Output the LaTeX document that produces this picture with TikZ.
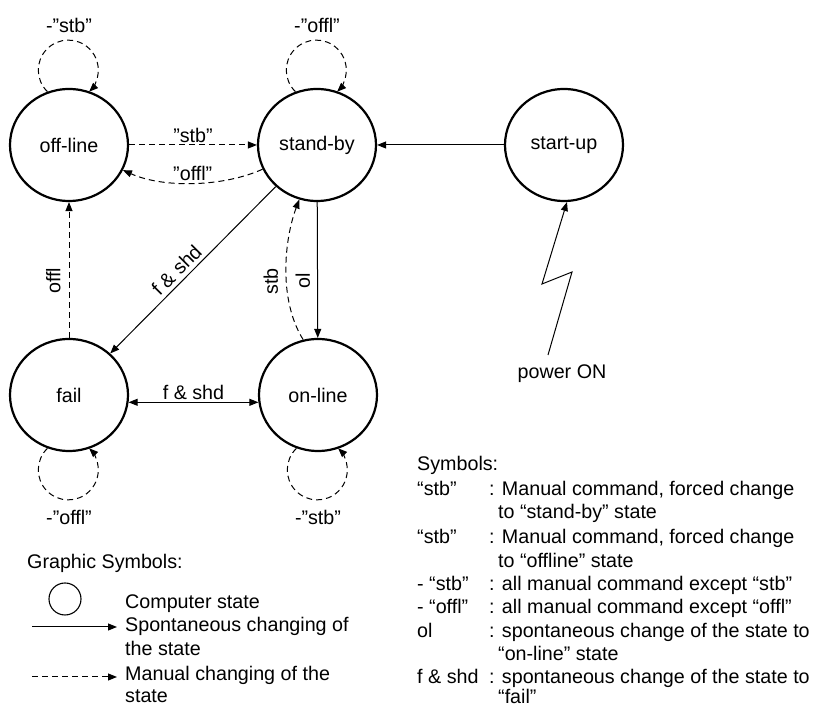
\documentclass[tikz,border=0pt]{standalone}
\usepackage{fontspec}
\setmainfont{Liberation Sans}
\usetikzlibrary{arrows.meta,shapes.geometric}
\begin{document}
\begin{tikzpicture}[x=1pt,y=1pt,
  every node/.style={font=\fontsize{19.7}{23.5}\selectfont, inner sep=2pt},
  state/.style={ellipse, draw, line width=2.2pt, minimum width=118pt, minimum height=112pt, inner sep=0pt},
  spont/.style={line width=1pt, -{Triangle[length=9pt,width=7pt]}},
  manual/.style={spont, dash pattern=on 6pt off 4pt},
  twoway/.style={line width=1pt, {Triangle[length=9pt,width=7pt]}-{Triangle[length=9pt,width=7pt]}},
  legtxt/.style={anchor=base west, inner sep=0pt}]
\useasboundingbox (0,0) rectangle (815,706);

% states
\node[state] (off)   at (69,561)  {off-line};
\node[state] (stby)  at (317,561) {stand-by};
\node[state] (start) at (564,561) {start-up};
\node[state] (fail)  at (69,311)  {fail};
\node[state] (onl)   at (318,311) {on-line};

% self loops
\draw[manual] (off.112) arc[start angle=226, end angle=-46, radius=30];
\node (loff) at (69,681) {-”stb”};
\draw[manual] (stby.112) arc[start angle=226, end angle=-46, radius=30];
\node (lstby) at (317,681) {-”offl”};
\draw[manual] (fail.-112) arc[start angle=134, end angle=406, radius=30];
\node (lfail) at (69,189) {-”offl”};
\draw[manual] (onl.-112) arc[start angle=134, end angle=406, radius=30];
\node (lonl) at (318,189) {-”stb”};

% transitions
\draw[manual] (off) -- node[above] {”stb”} (stby);
\draw[manual] (stby.204) .. controls +(-40,-18) and +(40,-18) .. (off.-25)
  node[pos=.5, above] {”offl”};
\draw[spont] (start) -- (stby);
\draw[spont] (stby) -- node[pos=.55, sloped, above=2pt] {f \& shd} (fail);
\draw[spont] (stby) -- node[pos=.58, rotate=90, above=5pt] {ol} (onl);
\draw[manual] (onl.105) .. controls +(-25,40) and +(-15,-40) .. (stby.252)
  node[pos=.42, rotate=90, above=6pt] {stb};
\draw[manual] (fail) -- node[pos=.42, rotate=90, above=6pt] {offl} (off);
\draw[twoway] (fail.-7) -- node[above] {f \& shd} (onl.187);

% power on
\node (pw) at (562,332) {power ON};
\coordinate (z0) at (548,351);
\coordinate (z1) at (572,434);
\coordinate (z2) at (542,422);
\draw[spont] (z0) -- (z1) -- (z2) -- (start.-87);

% graphic symbols legend
\node[legtxt] (gs) at (27,137) {Graphic Symbols:};
\node[draw, circle, minimum size=32pt, inner sep=0pt, line width=1.1pt] (lc) at (65,107) {};
\node[legtxt] (l1) at (125,97) {Computer state};
\coordinate (a0) at (32,79);
\coordinate (a1) at (117,79);
\draw[spont] (a0) -- (a1);
\node[legtxt] (l2) at (125,74) {Spontaneous changing of};
\node[legtxt] (l3) at (125,50) {the state};
\coordinate (b0) at (32,29);
\coordinate (b1) at (117,29);
\draw[manual] (b0) -- (b1);
\node[legtxt] (l4) at (125,25) {Manual changing of the};
\node[legtxt] (l5) at (125,3) {state};

% symbols legend
\node[legtxt] (sy) at (417,235) {Symbols:};
\node[legtxt] (s1a) at (417,210) {“stb”};
\node[legtxt] (s1b) at (489,210) {: Manual command, forced change};
\node[legtxt] (s1c) at (498,187) {to “stand-by” state};
\node[legtxt] (s2a) at (417,162) {“stb”};
\node[legtxt] (s2b) at (489,162) {: Manual command, forced change};
\node[legtxt] (s2c) at (498,138) {to “offline” state};
\node[legtxt] (s3a) at (417,115) {- “stb”};
\node[legtxt] (s3b) at (489,115) {: all manual command except “stb”};
\node[legtxt] (s4a) at (417,92) {- “offl”};
\node[legtxt] (s4b) at (489,92) {: all manual command except “offl”};
\node[legtxt] (s5a) at (417,68) {ol};
\node[legtxt] (s5b) at (489,68) {: spontaneous change of the state to};
\node[legtxt] (s5c) at (498,45) {“on-line” state};
\node[legtxt] (s6a) at (417,22) {f \& shd};
\node[legtxt] (s6b) at (489,22) {: spontaneous change of the state to};
\node[legtxt] (s6c) at (498,2) {“fail”};
\end{tikzpicture}
\end{document}
